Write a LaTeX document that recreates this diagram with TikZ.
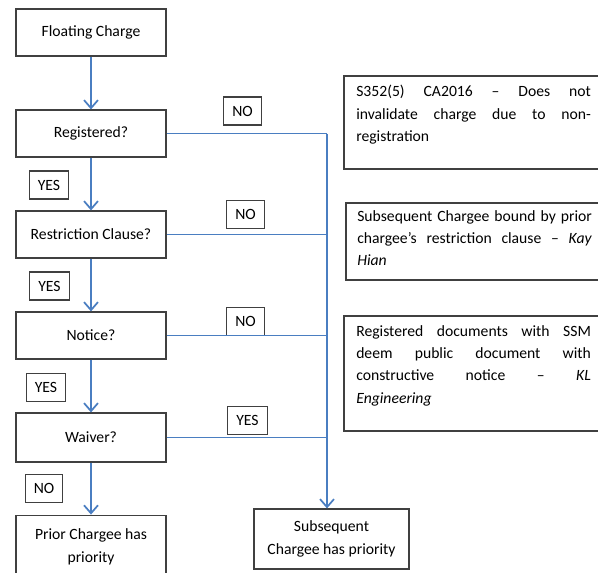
\documentclass[tikz,border=0pt]{standalone}
\usepackage{fontspec}
\setmainfont{Carlito}
\usetikzlibrary{arrows.meta}
\definecolor{flowblue}{RGB}{74,126,193}
\definecolor{boxgray}{RGB}{64,64,64}
\tikzset{
  qbox/.style={draw=boxgray, line width=0.9pt, minimum width=112.5pt, minimum height=35.25pt,
    align=center, inner sep=2pt, font=\fontsize{11.75}{17}\selectfont},
  tag/.style={draw=boxgray, line width=0.8pt, minimum height=21pt, inner xsep=6.5pt, inner ysep=0pt},
  notebox/.style={draw=boxgray, line width=1.2pt, anchor=north west, inner sep=0pt, minimum width=195pt},
  notetext/.style={anchor=north west, inner sep=0pt, text width=176pt, align=justify,
    font=\fontsize{11.75}{16.75}\selectfont},
  flow/.style={draw=flowblue, line width=1.3pt},
}
\begin{document}
\begin{tikzpicture}[x=0.75pt, y=-0.75pt, >={Straight Barb[length=6pt,width=10.5pt]},
  font=\fontsize{11.75}{14}\selectfont]
    \useasboundingbox (0,0) rectangle (598,572);
    \clip (0,0) rectangle (598,572);

    % 箱を置く
    \node[qbox] (fc) at (91,32.5) {Floating Charge};
    \node[qbox] (reg) at (91,133.5) {Registered?};
    \node[qbox] (rc) at (91,234.5) {Restriction Clause?};
    \node[qbox] (ntc) at (91,335.5) {Notice?};
    \node[qbox, minimum height=36.75pt] (wv) at (91,437.5) {Waiver?};
    \node[qbox, minimum height=47pt] (prior) at (91,546.5) {Prior Chargee has\\priority};
    \node[qbox, minimum width=116.25pt, minimum height=45pt] (sub) at (331.5,539) {Subsequent\\Chargee has priority};

    % 右の説明
    \node[notebox, minimum height=69.75pt] (n1) at (343,75) {};
    \node[notebox, minimum height=57.75pt] (n2) at (345,202) {};
    \node[notebox, minimum height=86.25pt] (n3) at (343,315) {};
    \node[notetext] (t1) at (356,85) {S352(5) CA2016 – Does not\linebreak invalidate charge due to non-\linebreak registration};
    \node[notetext] (t2) at (357,210) {Subsequent Chargee bound by prior\linebreak chargee’s restriction clause – \textit{Kay}\linebreak \textit{Hian}};
    \node[notetext] (t3) at (356,325) {Registered documents with SSM\linebreak deem public document with\linebreak constructive notice – \textit{KL}\linebreak \textit{Engineering}};

    % YES / NO
    \node[tag] (no1) at (242.5,111) {NO};
    \node[tag] (yes1) at (49,185) {YES};
    \node[tag] (no2) at (245.5,214.5) {NO};
    \node[tag] (yes2) at (49.5,286) {YES};
    \node[tag] (no3) at (245.5,321.5) {NO};
    \node[tag] (yes3) at (46,387.5) {YES};
    \node[tag] (yes4) at (247.5,420.5) {YES};
    \node[tag] (no4) at (44,488.5) {NO};

    % 線を引く
    \draw[flow,->] (fc) -- (reg);
    \draw[flow,->] (reg) -- (rc);
    \draw[flow,->] (rc) -- (ntc);
    \draw[flow,->] (ntc) -- (wv);
    \draw[flow,->] (wv) -- (prior);

    \coordinate (sp) at (327,0);
    \draw[flow] (reg.east) -- (reg.east -| sp);
    \draw[flow] (rc.east) -- (rc.east -| sp);
    \draw[flow] (ntc.east) -- (ntc.east -| sp);
    \draw[flow] (wv.east) -- (wv.east -| sp);
    \draw[flow,->] (reg.east -| sp) -- (sp |- sub.north);

  \end{tikzpicture}
\end{document}
